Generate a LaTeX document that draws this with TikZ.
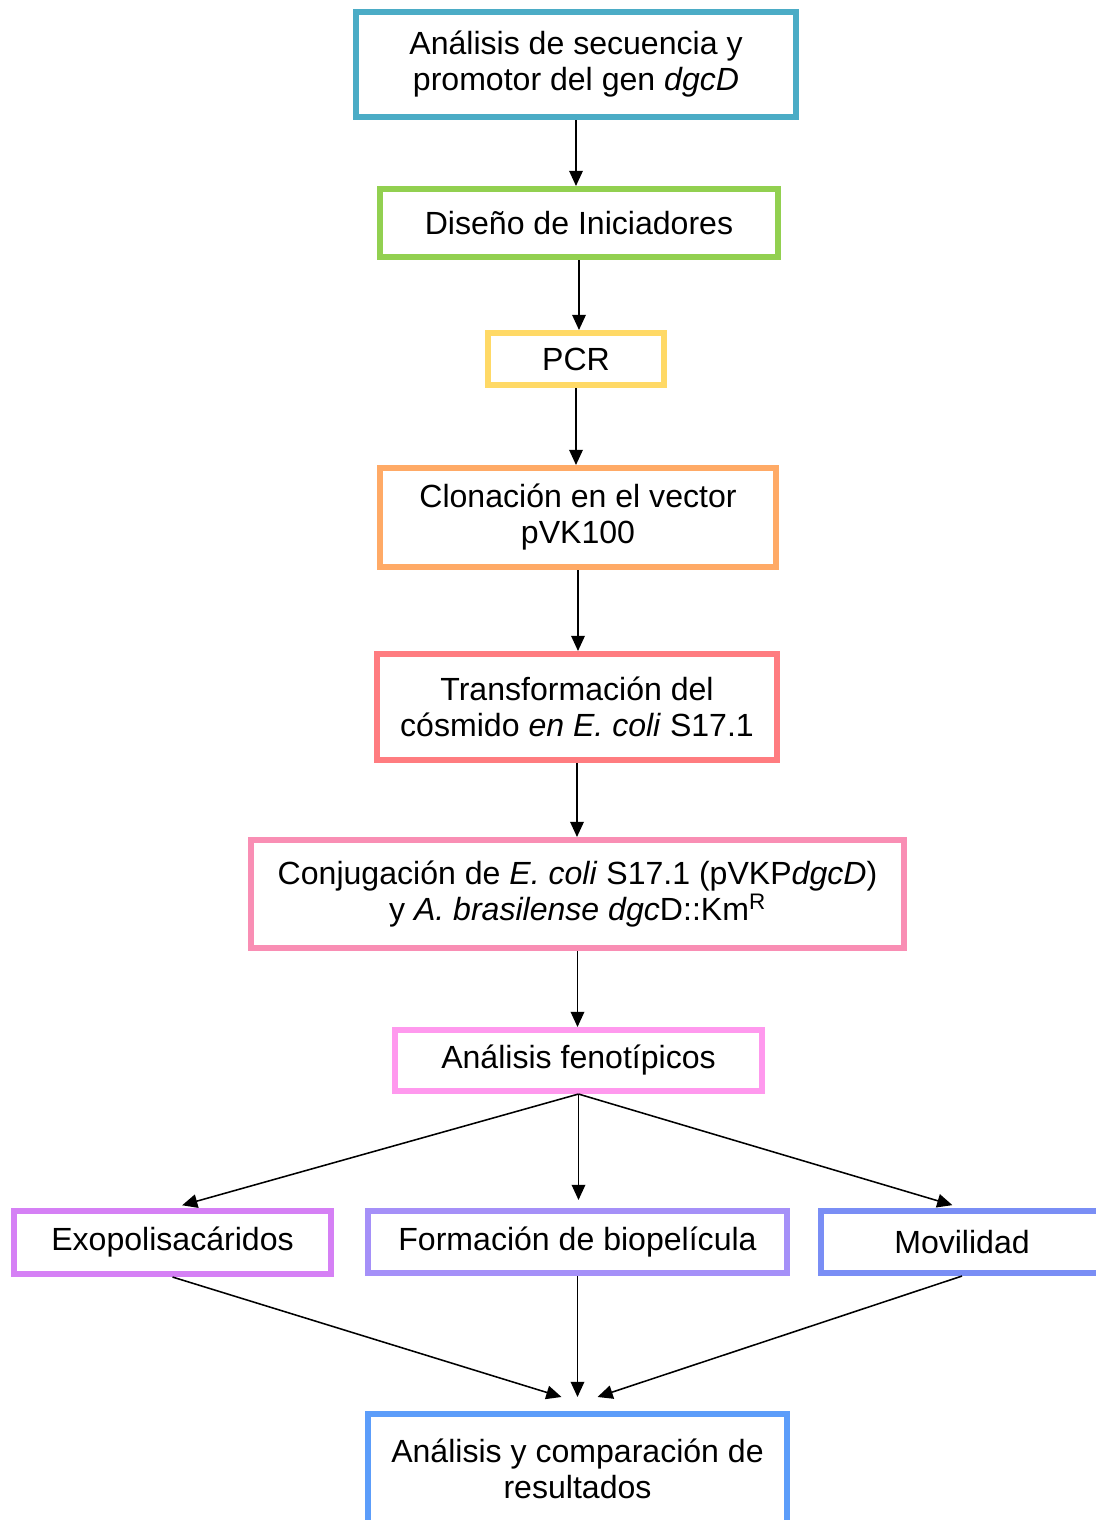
\documentclass[tikz,border=0pt]{standalone}
\usepackage{fontspec}
\setmainfont{Liberation Sans}
\usetikzlibrary{arrows.meta}
\definecolor{cSec}{RGB}{75,172,198}
\definecolor{cIni}{RGB}{146,208,80}
\definecolor{cPcr}{RGB}{255,217,102}
\definecolor{cClo}{RGB}{255,170,102}
\definecolor{cTra}{RGB}{255,124,128}
\definecolor{cCon}{RGB}{249,142,180}
\definecolor{cFen}{RGB}{255,153,238}
\definecolor{cExo}{RGB}{213,128,245}
\definecolor{cBio}{RGB}{165,144,248}
\definecolor{cMov}{RGB}{122,142,245}
\definecolor{cRes}{RGB}{92,157,250}
\tikzset{
paso/.style={draw=#1,line width=4.3pt,align=center,inner sep=0pt,font=\fontsize{22.8}{25.6}\selectfont},
flecha/.style={-{Triangle[length=0.38cm,width=0.34cm]},line width=1.1pt},
}
\begin{document}
\begin{tikzpicture}[x=0.025cm,y=-0.025cm]
\useasboundingbox (0,0) rectangle (1096,1520);
\foreach \nm/\cx/\cy/\w/\h/\col/\txt in {
sec/576/64.5/440/105/cSec/{Análisis de secuencia y\\promotor del gen \textit{dgcD}},
ini/579/223/398/68/cIni/{Diseño de Iniciadores},
pcr/576/359/176/52/cPcr/{PCR},
clo/578/517.5/396/99/cClo/{Clonación en el vector\\pVK100},
tra/577/707/400/106/cTra/{Transformación del\\cósmido \textit{en E. coli} S17.1},
con/577.5/894/653/108/cCon/{Conjugación de \textit{E. coli} S17.1 (pVKP\textit{dgcD})\\y \textit{A. brasilense dgc}D::Km\textsuperscript{R}},
fen/578.5/1060.5/367/61/cFen/{Análisis fenotípicos},
exo/172.5/1242.5/317/63/cExo/{Exopolisacáridos},
bio/577.5/1242/419/62/cBio/{Formación de biopelícula},
mov/962/1242/282/62/cMov/{Movilidad},
res/577.5/1469/419/110/cRes/{Análisis y comparación de\\resultados}}
{\node[paso=\col,minimum width=\w*0.025cm,minimum height=\h*0.025cm](\nm) at (\cx,\cy){\txt};}
\foreach \a/\b in {sec/ini,ini/pcr,pcr/clo,clo/tra,tra/con,con/fen}{\draw[flecha](\a.south)--(\a.south|-\b.north);}
\draw[flecha,shorten >=0.25cm](fen.south)--(exo.north);
\draw[flecha,shorten >=0.2cm](fen.south)--(fen.south|-bio.north);
\draw[flecha,shorten >=0.25cm](fen.south)--(mov.north);
\coordinate(resL) at ([xshift=-0.4cm,yshift=0.35cm]res.north);
\coordinate(resM) at ([yshift=0.35cm]res.north);
\coordinate(resR) at ([xshift=0.5cm,yshift=0.35cm]res.north);
\draw[flecha](exo.south)--(resL);
\draw[flecha](bio.south)--(resM);
\draw[flecha](mov.south)--(resR);
\end{tikzpicture}
\end{document}
